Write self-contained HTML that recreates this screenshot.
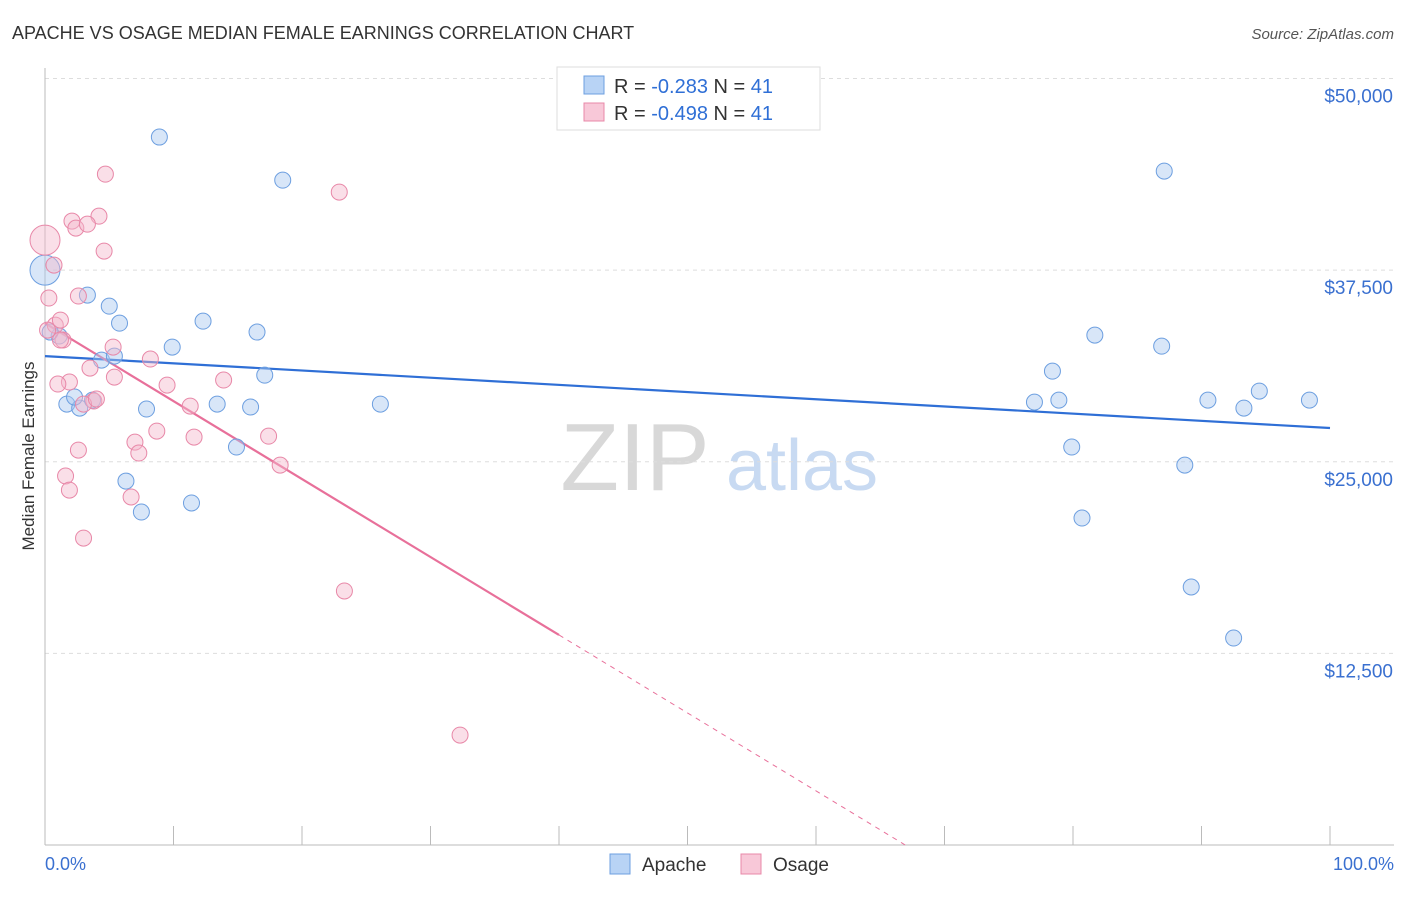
<!DOCTYPE html>
<html><head><meta charset="utf-8"><style>
body{margin:0;background:#fff;font-family:"Liberation Sans",sans-serif}
svg text{font-family:"Liberation Sans",sans-serif}
</style></head><body>
<svg width="1406" height="892" id="chart">
<text x="12" y="39" font-size="18" fill="#333">APACHE VS OSAGE MEDIAN FEMALE EARNINGS CORRELATION CHART</text>
<text x="1394" y="39" font-size="15" fill="#555" text-anchor="end" font-style="italic">Source: ZipAtlas.com</text>
<text x="34" y="456" font-size="17" fill="#333" text-anchor="middle" transform="rotate(-90 34 456)">Median Female Earnings</text>
<g>
<text x="635" y="490" font-size="96" fill="#d8d8d8" text-anchor="middle" font-family="Liberation Serif">ZIP</text>
<text x="802" y="490" font-size="72" fill="#c8daf2" text-anchor="middle">atlas</text>
</g>
<g id="grid"></g><g id="axes"></g><g id="trends"></g><g id="pts"></g>
<g>
<rect x="557" y="67" width="263" height="63" fill="#fff" stroke="#ddd"/>
<rect x="584" y="76" width="20" height="18" fill="#b8d3f5" stroke="#6d9fe0"/>
<text x="614" y="93" font-size="20" fill="#333">R = <tspan fill="#2f6fd6">-0.283</tspan>   N = <tspan fill="#2f6fd6">41</tspan></text>
<rect x="584" y="103" width="20" height="18" fill="#f8c8d8" stroke="#e888a8"/>
<text x="614" y="120" font-size="20" fill="#333">R = <tspan fill="#2f6fd6">-0.498</tspan>   N = <tspan fill="#2f6fd6">41</tspan></text>
</g>
<g>
<rect x="610" y="854" width="20" height="20" fill="#b8d3f5" stroke="#6d9fe0"/>
<text x="642" y="871" font-size="19" fill="#333">Apache</text>
<rect x="741" y="854" width="20" height="20" fill="#f8c8d8" stroke="#e888a8"/>
<text x="773" y="871" font-size="19" fill="#333">Osage</text>
</g>
<text x="45" y="870" font-size="18" fill="#3a70d0">0.0%</text>
<text x="1394" y="870" font-size="18" fill="#3a70d0" text-anchor="end">100.0%</text>
</svg>
<script>
const yTicks=[12500,25000,37500,50000];
const yTickLabels=["$12,500","$25,000","$37,500","$50,000"];
const apacheX=[8.9,18.5,87.1,0,3.3,5.0,5.8,12.3,16.5,1.1,0.4,9.9,4.4,5.4,17.1,1.7,2.7,3.7,2.3,7.9,13.4,16.0,26.1,14.9,6.3,7.5,11.4,78.4,81.7,86.9,77.0,78.9,90.5,93.3,94.5,98.4,79.9,88.7,80.7,89.2,92.5];
const apacheY=[46180,43370,43960,37500,35870,35150,34040,34170,33460,33200,33460,32480,31630,31890,30650,28760,28500,29020,29220,28440,28760,28570,28760,25960,23740,21720,22310,30910,33260,32540,28890,29020,29020,28500,29610,29020,25960,24780,21330,16830,13500];
const osageX=[0,4.7,22.9,2.1,4.2,2.4,3.3,4.6,0.7,0.3,2.6,0.8,1.2,1.4,5.3,8.2,3.5,5.4,1.9,1.0,9.5,13.9,3.8,3.0,11.3,8.7,11.6,17.4,7.0,7.3,2.6,18.3,1.6,1.9,6.7,3.0,23.3,32.3,0.2,4.0,1.2];
const osageY=[39460,43760,42590,40700,41020,40240,40500,38740,37830,35680,35810,33910,34240,32940,32480,31700,31110,30520,30200,30070,30000,30330,28960,28760,28630,27000,26610,26670,26280,25570,25760,24780,24070,23150,22700,20020,16570,7170,33590,29090,32940];
const apacheTrend=[31890,27200];
const osageTrend=[34040,-508.5];
const NS="http://www.w3.org/2000/svg";
const sx=v=>45+v*12.85, sy=v=>845-v*766.5/50000;
function mk(t,a,p){const e=document.createElementNS(NS,t);for(const k in a)e.setAttribute(k,a[k]);p.appendChild(e);return e;}
const grid=document.getElementById('grid'),axes=document.getElementById('axes'),tr=document.getElementById('trends'),pts=document.getElementById('pts');
yTicks.forEach((t,i)=>{
const l=mk('line',{x1:45,x2:1394,y1:sy(t),y2:sy(t),stroke:'#ddd','stroke-dasharray':'4,4'},grid);


const tx=mk('text',{x:1393,y:sy(t)+24,'font-size':19,fill:'#3a70d0','text-anchor':'end'},grid);
tx.textContent=yTickLabels[i];


});
mk('line',{x1:45,x2:45,y1:68,y2:845,stroke:'#bbb'},axes);
mk('line',{x1:45,x2:1394,y1:845,y2:845,stroke:'#bbb'},axes);
for(let i=0;i<=10;i++){const t=mk('line',{x1:sx(i*10),x2:sx(i*10),y1:826,y2:845,stroke:'#bbb'},axes);

}
const a1=mk('line',{x1:sx(0),y1:sy(apacheTrend[0]),x2:sx(100),y2:sy(apacheTrend[1]),stroke:'#2f6fd6','stroke-width':2.2},tr);


const oEnd=-osageTrend[0]/osageTrend[1];
const o1=mk('line',{x1:sx(0),y1:sy(osageTrend[0]),x2:sx(40),y2:sy(osageTrend[0]+40*osageTrend[1]),stroke:'#e8709a','stroke-width':2.2},tr);


const o2=mk('line',{x1:sx(40),y1:sy(osageTrend[0]+40*osageTrend[1]),x2:sx(oEnd),y2:sy(0),stroke:'#e8709a','stroke-width':1,'stroke-dasharray':'5,5'},tr);


function draw(X,Y,fill,stroke,name){X.forEach((x,i)=>{const r=x===0?15:8;
const c=mk('circle',{cx:sx(x),cy:sy(Y[i]),r:r,fill:fill,'fill-opacity':0.45,stroke:stroke,'stroke-width':1},pts);

});}
draw(apacheX,apacheY,'#a9c8f0','#6d9fe0','apache-point');
draw(osageX,osageY,'#f5b8cc','#e888a8','osage-point');
</script>
</body></html>
